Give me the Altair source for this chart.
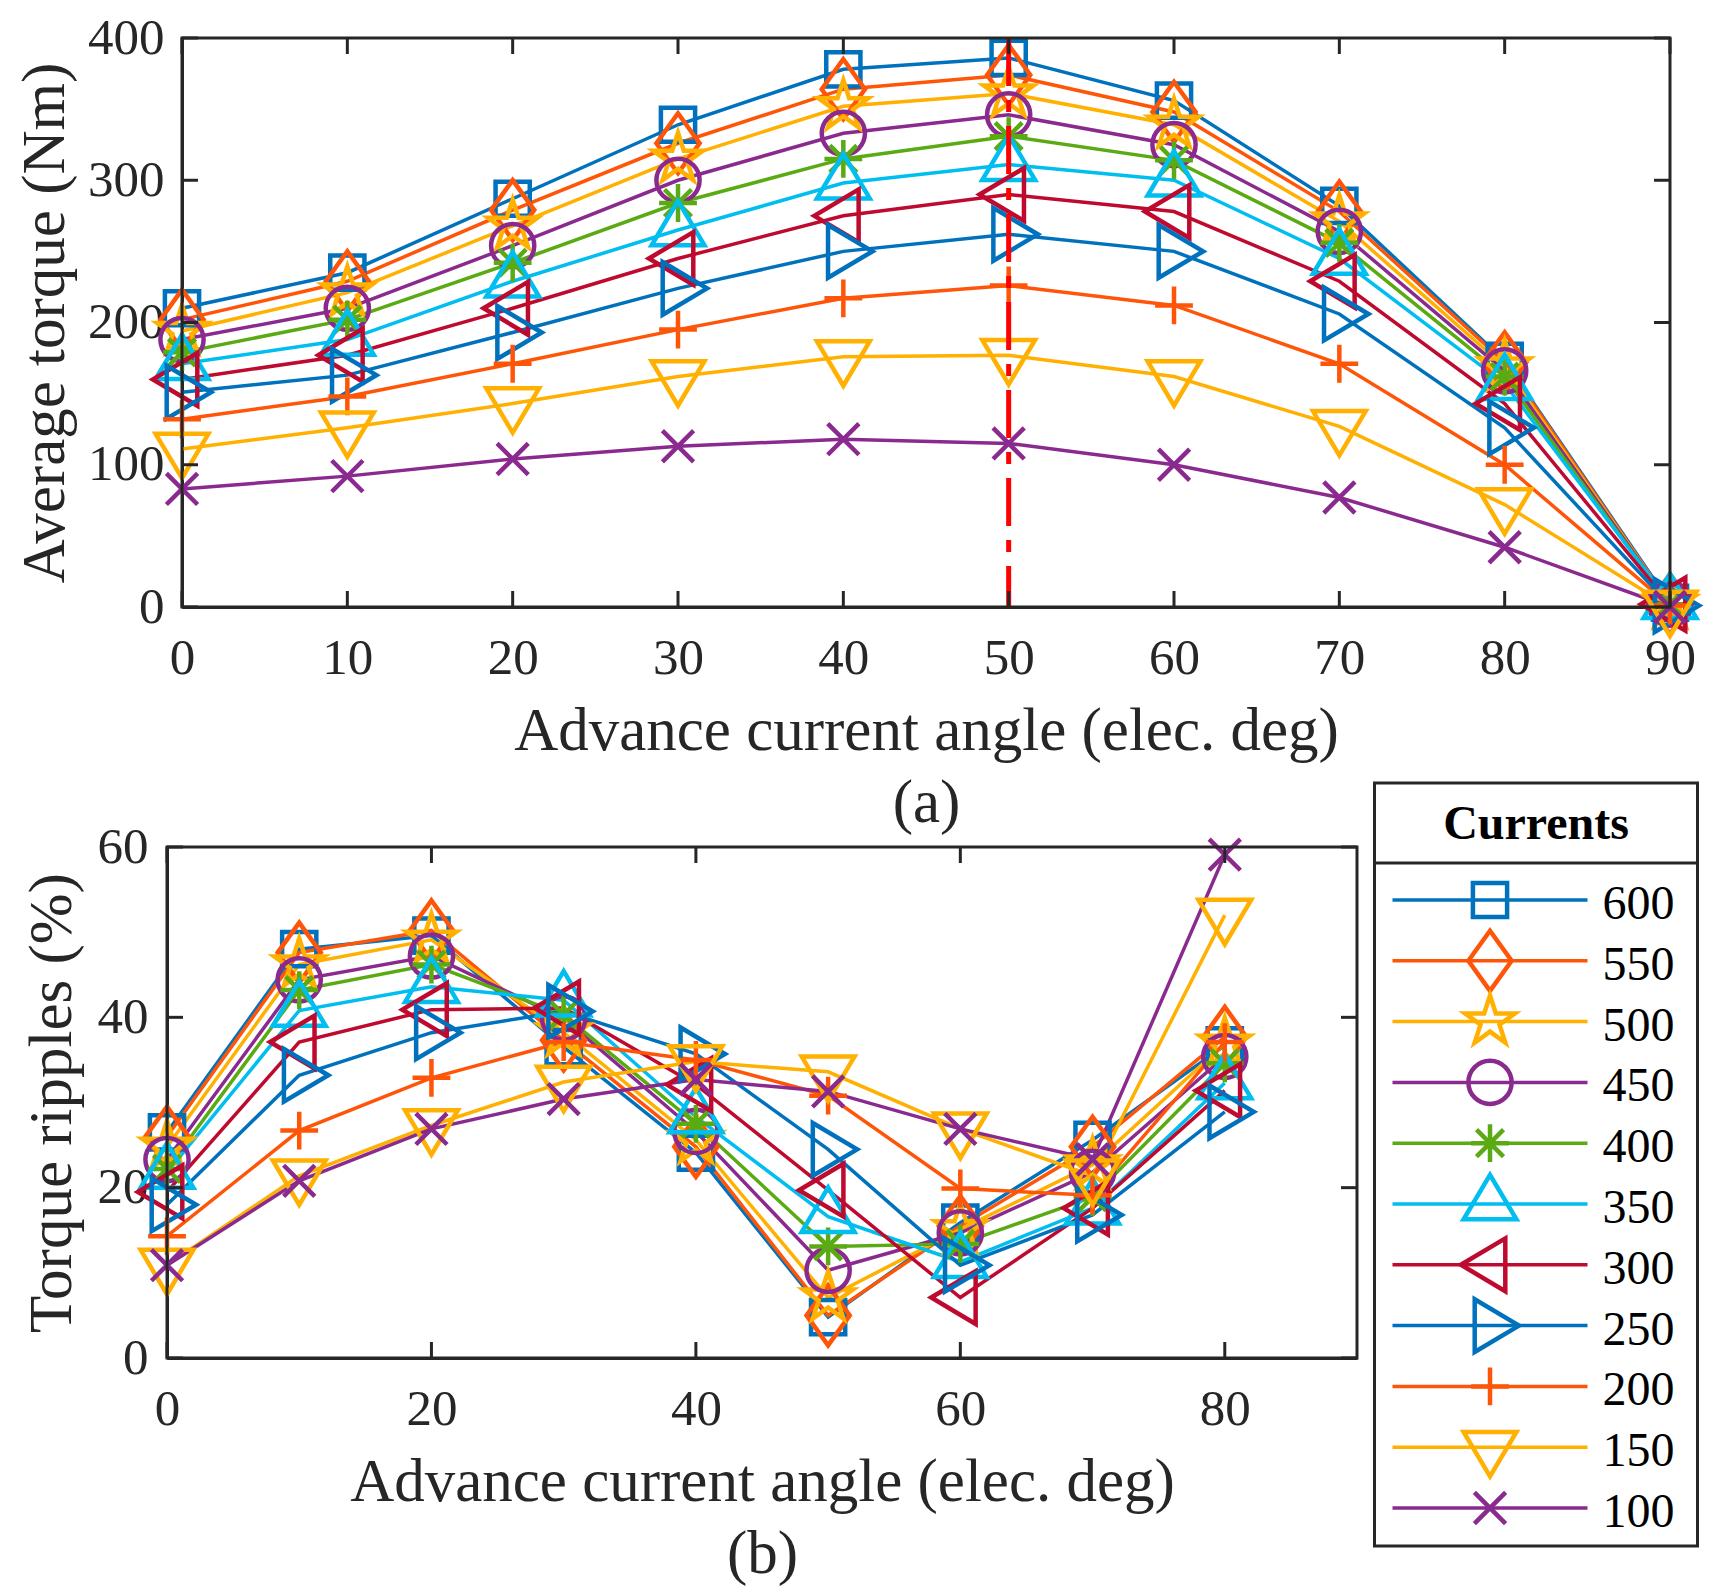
import altair as alt
import pandas as pd

# ---------------- data ----------------
currents = ["600", "550", "500", "450", "400", "350", "300", "250", "200", "150", "100"]

angles_a = [0, 10, 20, 30, 40, 50, 60, 70, 80, 90]
torque_600 = [210, 235, 287, 339, 378, 386, 356, 282, 173, 3]
torque_550 = [202, 229, 279, 326, 364, 374, 348, 278, 172, 2]
torque_500 = [194, 221, 268, 315, 352, 361, 339, 271, 169, 2]
torque_450 = [188, 210, 254, 300, 333, 346, 325, 264, 166, 2]
torque_400 = [179, 202, 242, 284, 315, 331, 314, 256, 162, 2]
torque_350 = [171, 188, 229, 265, 298, 311, 300, 245, 157, 3]
torque_300 = [160, 177, 210, 245, 275, 290, 278, 229, 143, 2]
torque_250 = [151, 163, 193, 224, 250, 262, 250, 206, 126, 1]
torque_200 = [132, 148, 171, 195, 217, 226, 212, 171, 100, 1]
torque_150 = [111, 126, 143, 162, 176, 177, 162, 127, 72, 0]
torque_100 = [83, 92, 104, 113, 118, 115, 100, 77, 42, 0]

angles_b = [0, 10, 20, 30, 40, 50, 60, 70, 80]
ripple_600 = [26.5, 48.0, 49.6, 36.5, 24.1, 4.8, 15.9, 25.6, 36.7]
ripple_550 = [26.0, 47.6, 50.2, 37.3, 24.8, 5.0, 15.5, 24.8, 37.7]
ripple_500 = [24.8, 46.2, 49.1, 38.2, 25.6, 7.1, 15.1, 22.7, 36.9]
ripple_450 = [23.3, 44.4, 47.2, 39.9, 26.6, 10.3, 14.7, 21.8, 35.4]
ripple_400 = [22.2, 43.2, 46.2, 40.3, 27.5, 13.1, 13.4, 18.9, 34.6]
ripple_350 = [21.8, 40.8, 43.6, 42.0, 28.3, 16.6, 11.3, 17.6, 32.3]
ripple_300 = [19.5, 37.1, 40.9, 41.1, 32.1, 19.7, 7.1, 17.6, 31.4]
ripple_250 = [18.0, 33.2, 38.2, 40.7, 35.7, 24.5, 10.9, 16.8, 28.9]
ripple_200 = [14.3, 26.7, 32.9, 37.1, 35.0, 30.8, 19.9, 19.1, 37.1]
ripple_150 = [10.9, 21.4, 27.3, 32.4, 34.8, 33.6, 26.9, 21.4, 52.0]
ripple_100 = [10.9, 20.8, 26.9, 30.4, 32.7, 31.3, 26.9, 23.3, 59.1]

xticks_a = [0, 10, 20, 30, 40, 50, 60, 70, 80, 90]
yticks_a = [0, 100, 200, 300, 400]
xticks_b = [0, 20, 40, 60, 80]
yticks_b = [0, 20, 40, 60]

optimum_angle = [50]
optimum_top = [400]
optimum_bottom = [0]

xtitle = "Advance current angle (elec. deg)"
ytitle_a = "Average torque (Nm)"
ytitle_b = "Torque ripples (%)"
legend_title = "Currents"

colors = ["#0072BD", "#FF5508", "#FFB000", "#8B2A8E", "#5AAA14", "#00BEF0",
          "#BF0A30", "#0072BD", "#FF5508", "#FFB000", "#8B2A8E"]

shapes = [
    "M-0.57,-0.57H0.57V0.57H-0.57Z",
    "M0,-1L0.72,0L0,1L-0.72,0Z",
    "M0,-0.87L0.195,-0.269L0.827,-0.269L0.316,0.103L0.511,0.704L0,0.332L-0.511,0.704L-0.316,0.103L-0.827,-0.269L-0.195,-0.269Z",
    "M0.72,0A0.72,0.72,0,1,1,-0.72,0A0.72,0.72,0,1,1,0.72,0Z",
    "M0,-0.63L0,0.63M-0.63,0L0.63,0M-0.45,-0.45L0.45,0.45M-0.45,0.45L0.45,-0.45",
    "M0,-0.97L0.88,0.51L-0.88,0.51Z",
    "M-0.97,0L0.51,-0.88L0.51,0.88Z",
    "M0.97,0L-0.51,-0.88L-0.51,0.88Z",
    "M-0.63,0L0.63,0M0,-0.63L0,0.63",
    "M0,0.97L0.88,-0.51L-0.88,-0.51Z",
    "M-0.52,-0.52L0.52,0.52M-0.52,0.52L0.52,-0.52",
]

torque_series = [torque_600, torque_550, torque_500, torque_450, torque_400, torque_350,
                 torque_300, torque_250, torque_200, torque_150, torque_100]
ripple_series = [ripple_600, ripple_550, ripple_500, ripple_450, ripple_400, ripple_350,
                 ripple_300, ripple_250, ripple_200, ripple_150, ripple_100]

rows_a = []
for k, (cur, vals) in enumerate(zip(currents, torque_series)):
    for a, v in zip(angles_a, vals):
        rows_a.append({"current": cur, "k": k, "angle": a, "value": v})
df_a = pd.DataFrame(rows_a)

rows_b = []
for k, (cur, vals) in enumerate(zip(currents, ripple_series)):
    for a, v in zip(angles_b, vals):
        rows_b.append({"current": cur, "k": k, "angle": a, "value": v})
df_b = pd.DataFrame(rows_b)

# ---------------- style ----------------
FONT = "Liberation Serif, Times New Roman, serif"
INK = "#262626"
W_A, H_A = 1488, 569
SHIFT_B = 15                 # bottom frame starts 15 px left of the top frame
W_B, H_B = 1190 - SHIFT_B, 511
TICK = 16

color_scale = alt.Scale(domain=currents, range=colors)
shape_scale = alt.Scale(domain=currents, range=shapes)
one = pd.DataFrame({"label": [legend_title]})


def panel(df, xticks, yticks, xdom, ydom, ytitle, ctitle, x0, W, H, lab_pad_y, title_pad_y):
    x_enc = alt.X("angle:Q", scale=alt.Scale(domain=xdom, nice=False, zero=False, range=[x0, W]),
                  axis=alt.Axis(values=xticks, title=[xtitle, ctitle], labelPadding=26,
                                titlePadding=18, titleLineHeight=72))
    y_enc = alt.Y("value:Q", scale=alt.Scale(domain=ydom, nice=False, zero=False),
                  axis=alt.Axis(values=yticks, title=ytitle, labelPadding=lab_pad_y,
                                titlePadding=title_pad_y, offset=-x0))
    base = alt.Chart(df)
    lines = base.mark_line(strokeWidth=3.5).encode(
        x=x_enc, y=y_enc,
        color=alt.Color("current:N", scale=color_scale, legend=None),
        order=alt.Order("angle:Q"))
    points = base.mark_point(filled=False, size=3600, strokeWidth=4.5, opacity=1).encode(
        x=x_enc, y=y_enc,
        color=alt.Color("current:N", scale=color_scale, legend=None),
        shape=alt.Shape("current:N", scale=shape_scale, legend=None),
        order=alt.Order("k:Q"))
    xt = alt.Chart(pd.DataFrame({"angle": xticks}))
    yt = alt.Chart(pd.DataFrame({"value": yticks}))
    tk = dict(color=INK, strokeWidth=3)
    deco = [
        alt.Chart(one).mark_rect(fill="transparent", stroke=INK, strokeWidth=3).encode(
            x=alt.value(x0), x2=alt.value(W), y=alt.value(0), y2=alt.value(H)),
        xt.mark_rule(**tk).encode(x=x_enc, y=alt.value(H), y2=alt.value(H - TICK)),
        xt.mark_rule(**tk).encode(x=x_enc, y=alt.value(0), y2=alt.value(TICK)),
        yt.mark_rule(**tk).encode(y=y_enc, x=alt.value(x0), x2=alt.value(x0 + TICK)),
        yt.mark_rule(**tk).encode(y=y_enc, x=alt.value(W - TICK), x2=alt.value(W)),
    ]
    return lines, points, deco, x_enc, y_enc


lines_a, points_a, deco_a, xa, ya = panel(df_a, xticks_a, yticks_a, [0, 90], [0, 400],
                                          ytitle_a, "(a)", 0, W_A, H_A, 18, 11)
red = alt.Chart(pd.DataFrame({"angle": optimum_angle, "value": optimum_top,
                              "value2": optimum_bottom})).mark_rule(
    color="#FF0000", strokeWidth=5, strokeDash=[48, 14, 12, 14]).encode(
    x=xa, y=ya, y2="value2:Q")
top = alt.layer(lines_a, points_a, red, *deco_a).properties(width=W_A, height=H_A)

lines_b, points_b, deco_b, xb, yb = panel(df_b, xticks_b, yticks_b, [0, 90], [0, 60],
                                          ytitle_b, "(b)", -SHIFT_B, W_B, H_B, 19, 14)
bottom = alt.layer(lines_b, points_b, *deco_b).properties(width=W_B, height=H_B)

# ---------------- legend (origin = top of bottom plot) ----------------
LW = 323
L_TOP, L_BOT = -64, 699
leg_df = pd.DataFrame({"current": currents})
ly = alt.Y("current:N", scale=alt.Scale(type="point", domain=currents, range=[53, 661], padding=0),
           axis=None)
leg_frame = alt.Chart(one).mark_rect(fill="transparent", stroke=INK, strokeWidth=3).encode(
    x=alt.value(0), x2=alt.value(LW), y=alt.value(L_TOP), y2=alt.value(L_BOT))
leg_line = alt.Chart(leg_df).mark_rule(strokeWidth=3.5).encode(
    y=ly, x=alt.value(18), x2=alt.value(213),
    color=alt.Color("current:N", scale=color_scale, legend=None))
leg_pt = alt.Chart(leg_df).mark_point(filled=False, size=3600, strokeWidth=4.5, opacity=1).encode(
    y=ly, x=alt.value(115.5),
    color=alt.Color("current:N", scale=color_scale, legend=None),
    shape=alt.Shape("current:N", scale=shape_scale, legend=None))
leg_txt = alt.Chart(leg_df).mark_text(align="left", baseline="middle", dy=5, fontSize=48,
                                      font=FONT, color="#000000").encode(
    y=ly, x=alt.value(228), text="current:N")
leg_head = alt.Chart(one).mark_text(align="center", baseline="middle", fontSize=48,
                                    fontWeight="bold", font=FONT, color="#000000").encode(
    x=alt.value(LW / 2), y=alt.value(-22), text="label:N")
leg_sep = alt.Chart(one).mark_rule(color=INK, strokeWidth=3).encode(
    x=alt.value(0), x2=alt.value(LW), y=alt.value(16))
legend = alt.layer(leg_frame, leg_line, leg_pt, leg_txt, leg_head, leg_sep).properties(
    width=LW, height=L_BOT)

row = alt.hconcat(bottom, legend, spacing=-0.5)
chart = alt.vconcat(top, row, spacing=-53).properties(
    padding={"left": 5, "top": 3, "right": 5, "bottom": 5}
).configure_view(
    stroke="transparent"
).configure_axis(
    labelFont=FONT, titleFont=FONT, labelFontSize=51, titleFontSize=61,
    labelColor=INK, titleColor=INK, titleFontWeight="normal",
    domainColor=INK, domainWidth=3, grid=False, ticks=False, tickSize=0,
    labelFlush=False, labelOverlap=False, labelBound=False
)

chart.save("out.html", embed_options={"renderer": "svg", "actions": False})
